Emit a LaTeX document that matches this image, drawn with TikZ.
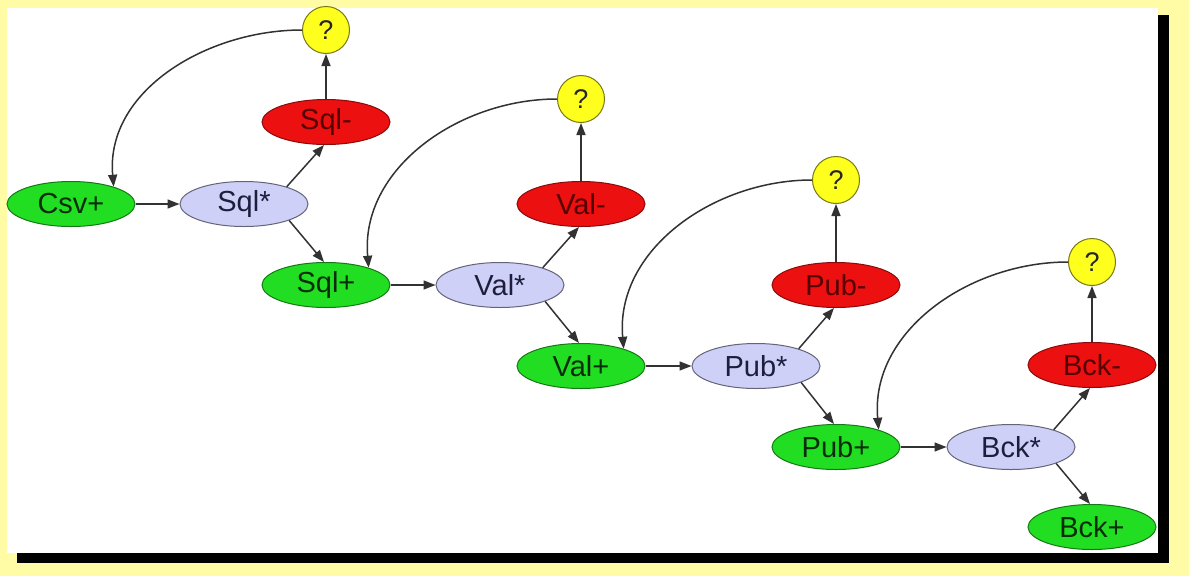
\documentclass[tikz,border=0pt]{standalone}
\usepackage{fontspec}
\setmainfont{Liberation Sans}
\usetikzlibrary{shapes.geometric,arrows.meta}
\definecolor{bgyellow}{RGB}{255,252,165}
\definecolor{ngreen}{RGB}{34,222,34}
\definecolor{ngreenb}{RGB}{20,120,20}
\definecolor{ngreent}{RGB}{8,45,8}
\definecolor{nred}{RGB}{236,16,16}
\definecolor{nredb}{RGB}{140,10,10}
\definecolor{nredt}{RGB}{85,0,0}
\definecolor{nlav}{RGB}{206,208,248}
\definecolor{nlavb}{RGB}{100,100,120}
\definecolor{nlavt}{RGB}{30,30,60}
\definecolor{nyel}{RGB}{255,255,30}
\definecolor{nyelb}{RGB}{120,120,20}
\definecolor{edgec}{RGB}{50,50,50}
\begin{document}
\begin{tikzpicture}[x=1pt,y=1pt,
  base/.style={ellipse,minimum width=128pt,minimum height=45pt,inner sep=0pt,line width=1pt,font=\fontsize{29}{31}\selectfont},
  plusnode/.style={base,fill=ngreen,draw=ngreenb,text=ngreent},
  minusnode/.style={base,fill=nred,draw=nredb,text=nredt},
  starnode/.style={base,fill=nlav,draw=nlavb,text=nlavt},
  qnode/.style={circle,minimum size=47pt,inner sep=0pt,line width=1pt,fill=nyel,draw=nyelb,text=black!85,font=\fontsize{27}{29}\selectfont},
  conn/.style={draw=edgec,line width=1.5pt,-{Triangle[length=12pt,width=9pt]}}]
\useasboundingbox (0,0) rectangle (1189,-576);
\fill[bgyellow] (0,0) rectangle (1189,-576);
\fill[black] (17,-15) rectangle (1169,-563);
\fill[white] (7,-8) rectangle (1158,-553);

\node[plusnode] (csv) at (71,-204) {Csv+};
\node[starnode] (sqls) at (244,-204) {Sql*};
\node[minusnode] (sqlm) at (326,-122) {Sql-};
\node[qnode] (q1) at (326,-30) {?};
\node[plusnode] (sqlp) at (326,-285) {Sql+};

\node[starnode] (vals) at (500,-285) {Val*};
\node[minusnode] (valm) at (581,-204) {Val-};
\node[qnode] (q2) at (581,-99) {?};
\node[plusnode] (valp) at (581,-366) {Val+};

\node[starnode] (pubs) at (756,-366) {Pub*};
\node[minusnode] (pubm) at (836,-285) {Pub-};
\node[qnode] (q3) at (836,-180) {?};
\node[plusnode] (pubp) at (836,-447) {Pub+};

\node[starnode] (bcks) at (1011,-447) {Bck*};
\node[minusnode] (bckm) at (1092,-365) {Bck-};
\node[qnode] (q4) at (1092,-262) {?};
\node[plusnode] (bckp) at (1092,-527) {Bck+};

\draw[conn] (csv) -- (sqls);
\draw[conn] (sqls.22) -- (sqlm.-95);
\draw[conn] (sqls.-20) -- (sqlp.95);
\draw[conn] (sqlm) -- (q1);
\draw[conn] (q1.west) to[out=180,in=95] (csv.22);

\draw[conn] (sqlp) -- (vals);
\draw[conn] (vals.22) -- (valm.-95);
\draw[conn] (vals.-20) -- (valp.95);
\draw[conn] (valm) -- (q2);
\draw[conn] (q2.west) to[out=180,in=95] (sqlp.22);

\draw[conn] (valp) -- (pubs);
\draw[conn] (pubs.22) -- (pubm.-95);
\draw[conn] (pubs.-20) -- (pubp.95);
\draw[conn] (pubm) -- (q3);
\draw[conn] (q3.west) to[out=180,in=95] (valp.22);

\draw[conn] (pubp) -- (bcks);
\draw[conn] (bcks.22) -- (bckm.-95);
\draw[conn] (bcks.-20) -- (bckp.95);
\draw[conn] (bckm) -- (q4);
\draw[conn] (q4.west) to[out=180,in=95] (pubp.22);
\end{tikzpicture}
\end{document}
